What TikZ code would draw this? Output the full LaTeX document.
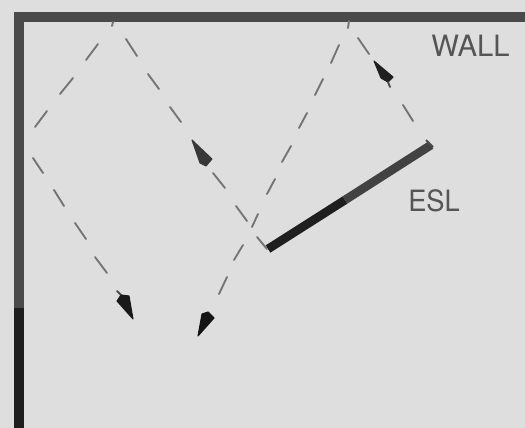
\documentclass[tikz,border=0pt]{standalone}
\usepackage{fontspec}
\setmainfont{TeX Gyre Heros}
\definecolor{paper}{HTML}{DEDEDE}
\definecolor{walldark}{HTML}{4A4A4A}
\definecolor{wallblack}{HTML}{1E1E1E}
\definecolor{dashgrey}{HTML}{747474}
\definecolor{labelgrey}{HTML}{555555}
\tikzset{
  wallbar/.style={line width=8.2pt,color=walldark},
  raydash/.style={line width=1.4pt,color=dashgrey,line cap=round},
  rayhead/.style={fill=#1,draw=#1,line width=0.8pt,line join=round},
  lab/.style={text=labelgrey,inner sep=0pt,font=\fontsize{22}{22}\selectfont}
}
\begin{document}
\begin{tikzpicture}[x=0.75pt,y=-0.75pt]
\useasboundingbox (0,0) rectangle (525,428);
\fill[paper] (0,0) rectangle (525,428);
% wall
\draw[wallbar,line cap=butt,line join=miter] (19,310) -- (19,17) -- (525,17);
\draw[wallbar,color=wallblack] (19,308) -- (19,428);
% ESL panel
\draw[line width=6.5pt,color=black!88] (268,249) -- (345,200);
\draw[line width=6.5pt,color=black!74] (345,200) -- (431,145);
\draw[line width=1.5pt,color=black!70] (426,140) -- (433,147);
% rays
\foreach \a/\b/\c/\d in {113/22/112/26, 98/44/86/60, 73/78/60/94, 47/111/35/127,
  33/158/43/173, 54/190/64/206, 75/223/86/239, 95/257/107/273,
  126/39/137/56, 148/74/159/89, 170/107/181/122, 213/173/225/188, 236/206/247/221, 257/237/267/249,
  403/105/413/121, 358/38/369/54,
  349/21/348/28, 339/45/331/63, 323/79/315/95, 307/113/299/128, 291/146/282/162, 275/179/267/194,
  258/214/252/227, 243/245/234/260, 227/277/219/294}
  \draw[raydash] (\a,\b) -- (\c,\d);
% arrowheads
\draw[raydash,color=black!70] (117,291) -- (124,298);
\fill[rayhead=black!90] (133,319) -- (117,301) -- (121,295) -- (129,296) -- cycle;
\fill[rayhead=black!78] (192,140) -- (200,163) -- (206,166) -- (212,159) -- cycle;
\fill[rayhead=black!88] (374,61) -- (381,78) -- (388,82) -- (393,77) -- cycle;
\draw[raydash,color=black!70] (388,82) -- (390,87);
\fill[rayhead=black!92] (198,336) -- (202,314) -- (208,312) -- (214,318) -- cycle;
% labels
\node[lab,anchor=base west,xscale=1.0] (wall) at (431,57) {WALL};
\node[lab,anchor=base west,xscale=0.93] (esl) at (408,211) {ESL};
\end{tikzpicture}
\end{document}
